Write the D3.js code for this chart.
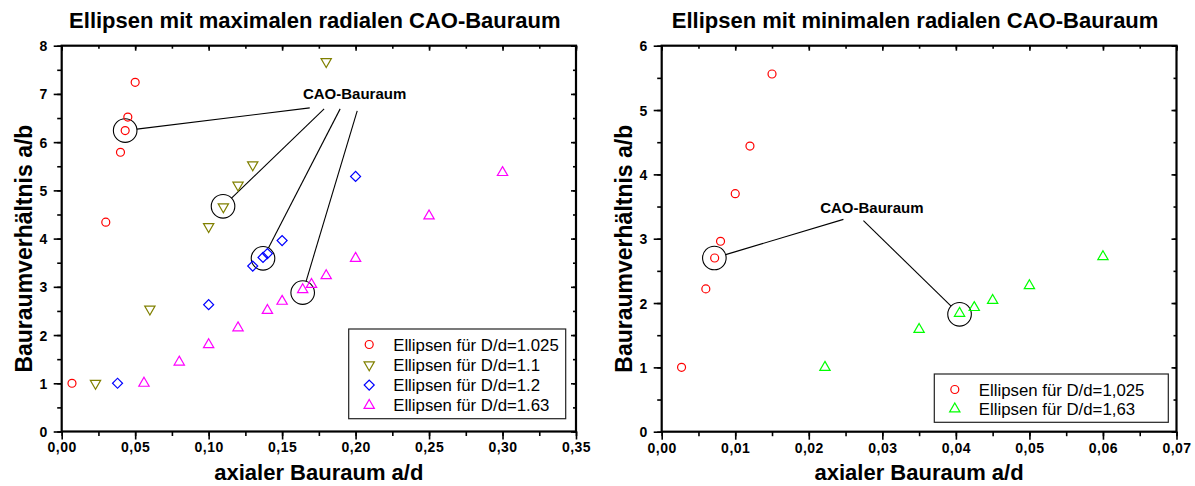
<!DOCTYPE html>
<html>
<head>
<meta charset="utf-8">
<script src="https://cdn.jsdelivr.net/npm/d3@7"></script>
<style>
  html, body { margin: 0; padding: 0; background: #fff; }
  svg { display: block; }
  .title { font-family: "Liberation Sans", Arial, sans-serif; font-weight: bold; font-size: 22px; }
  .axtitle { font-family: "Liberation Sans", Arial, sans-serif; font-weight: bold; font-size: 22px; }
  .ytitle { font-family: "Liberation Sans", Arial, sans-serif; font-weight: bold; font-size: 23px; }
  .legend text { font-family: "Liberation Sans", Arial, sans-serif; font-size: 16.8px; }
  .note { font-family: "Liberation Sans", Arial, sans-serif; font-weight: bold; font-size: 15px; }
</style>
</head>
<body>
<svg id="chart" width="1195" height="486"></svg>
<script>
// ---- Left panel: ellipses with maximal radial CAO design space ----
const leftTitle = "Ellipsen mit maximalen radialen CAO-Bauraum";
const leftXTicks = [0, 0.05, 0.10, 0.15, 0.20, 0.25, 0.30, 0.35];
const leftYTicks = [0, 1, 2, 3, 4, 5, 6, 7, 8];

const maxD1025x = [0.007, 0.030, 0.040, 0.0432, 0.045, 0.050];
const maxD1025y = [1.00, 4.34, 5.79, 6.24, 6.52, 7.24];
const maxD11x = [0.023, 0.060, 0.100, 0.110, 0.120, 0.130, 0.180];
const maxD11y = [1.00, 2.54, 4.25, 4.66, 5.11, 5.53, 7.67];
const maxD12x = [0.038, 0.100, 0.130, 0.137, 0.140, 0.150, 0.200];
const maxD12y = [1.00, 2.63, 3.43, 3.61, 3.69, 3.96, 5.29];
const maxD163x = [0.056, 0.080, 0.100, 0.120, 0.140, 0.150, 0.164, 0.170, 0.180, 0.200, 0.250, 0.300];
const maxD163y = [1.00, 1.44, 1.80, 2.15, 2.51, 2.70, 2.94, 3.05, 3.23, 3.59, 4.47, 5.37];

// highlighted CAO design points and the label they are tied to
const maxCaoX = [0.0432, 0.1098, 0.137, 0.164];
const maxCaoY = [6.24, 4.67, 3.59, 2.88];
const maxLabel = { text: "CAO-Bauraum", x: 0.1993, y: 6.89 };
const maxLeaderX = [0.1688, 0.1786, 0.1895, 0.2011];
const maxLeaderY = [6.71, 6.69, 6.69, 6.65];

// ---- Right panel: ellipses with minimal radial CAO design space ----
const rightTitle = "Ellipsen mit minimalen radialen CAO-Bauraum";
const rightXTicks = [0, 0.01, 0.02, 0.03, 0.04, 0.05, 0.06, 0.07];
const rightYTicks = [0, 1, 2, 3, 4, 5, 6];

const minD1025x = [0.0027, 0.0060, 0.0072, 0.0080, 0.0100, 0.0120, 0.0150];
const minD1025y = [1.00, 2.22, 2.70, 2.96, 3.70, 4.44, 5.56];
const minD163x = [0.0222, 0.0350, 0.0405, 0.0425, 0.0450, 0.0500, 0.0600];
const minD163y = [1.00, 1.59, 1.84, 1.93, 2.04, 2.27, 2.72];

const minCaoX = [0.00716, 0.0405];
const minCaoY = [2.70, 1.825];
const minLabel = { text: "CAO-Bauraum", x: 0.02857, y: 3.40 };
const minLeaderX = [0.02471, 0.02743];
const minLeaderY = [3.30, 3.28];

const xTitle = "axialer Bauraum a/d";
const yTitle = "Bauraumverhältnis a/b";

// ---- marker shapes ----
const markers = {
  circle:  { path: d3.symbol(d3.symbolCircle, 50)(), rot: 0 },
  down:    { path: d3.symbol(d3.symbolTriangle, 46)(), rot: 180 },
  up:      { path: d3.symbol(d3.symbolTriangle, 46)(), rot: 0 },
  diamond: { path: d3.symbol(d3.symbolSquare, 50)(), rot: 45 }
};

const zip = (xs, ys) => xs.map((x, i) => ({ x, y: ys[i] }));
const fmt = v => d3.format(".2f")(v).replace(".", ",");

const svg = d3.select("#chart");

function styleAxis(a) {
  a.attr("font-family", "'Liberation Sans', Arial, sans-serif")
   .attr("font-size", 14).attr("font-weight", "bold");
  a.selectAll(".domain").remove();
  a.selectAll("line").attr("stroke", "#000").attr("stroke-width", 1.6);
  a.selectAll("text").attr("fill", "#000").attr("letter-spacing", 0.5);
}

function drawPanel(cfg) {
  const { x0, x1, y0, y1 } = cfg.box;
  const xs = d3.scaleLinear().domain(cfg.xDomain).range([x0, x1]);
  const ys = d3.scaleLinear().domain(cfg.yDomain).range([y1, y0]);
  const g = svg.append("g");

  // title
  g.append("text").attr("class", "title")
    .attr("x", (x0 + x1) / 2 - 4).attr("y", 28)
    .attr("text-anchor", "middle").text(cfg.title);

  // minor tick values
  const xMinor = d3.range(cfg.xDomain[0], cfg.xDomain[1] + 1e-9, cfg.xMinorStep);
  const yMinor = d3.range(cfg.yDomain[0], cfg.yDomain[1] + 1e-9, cfg.yMinorStep);

  // bottom axis: outward ticks, labelled
  const bottom = g.append("g").attr("transform", `translate(0,${y1})`)
    .call(d3.axisBottom(xs).tickValues(cfg.xTicks).tickFormat(fmt).tickSize(8).tickPadding(3));
  bottom.append("g").call(d3.axisBottom(xs).tickValues(xMinor).tickFormat("").tickSize(4.5));
  // left axis
  const left = g.append("g").attr("transform", `translate(${x0},0)`)
    .call(d3.axisLeft(ys).tickValues(cfg.yTicks).tickFormat(d3.format("d")).tickSize(8).tickPadding(6));
  left.append("g").call(d3.axisLeft(ys).tickValues(yMinor).tickFormat("").tickSize(4.5));
  // top axis: inward ticks
  const top = g.append("g").attr("transform", `translate(0,${y0})`)
    .call(d3.axisBottom(xs).tickValues(cfg.xTicks).tickFormat("").tickSize(5));
  top.append("g").call(d3.axisBottom(xs).tickValues(xMinor).tickFormat("").tickSize(3));
  // right axis: inward ticks
  const right = g.append("g").attr("transform", `translate(${x1},0)`)
    .call(d3.axisLeft(ys).tickValues(cfg.yTicks).tickFormat("").tickSize(5));
  right.append("g").call(d3.axisLeft(ys).tickValues(yMinor).tickFormat("").tickSize(3));

  [bottom, left, top, right].forEach(styleAxis);
  left.selectAll(".tick text").attr("dy", "0.36em");

  // frame
  g.append("rect").attr("x", x0).attr("y", y0)
    .attr("width", x1 - x0).attr("height", y1 - y0)
    .attr("fill", "none").attr("stroke", "#000").attr("stroke-width", 2.2);

  // axis titles
  g.append("text").attr("class", "axtitle")
    .attr("x", (x0 + x1) / 2).attr("y", 480)
    .attr("text-anchor", "middle").text(xTitle);
  g.append("text").attr("class", "ytitle")
    .attr("transform", `translate(${x0 - 29.5},${(y0 + y1) / 2 + 10}) rotate(-90)`)
    .attr("text-anchor", "middle").text(yTitle);

  // highlighted CAO points with leader lines to the label
  const R = 11.8;
  const lbl = cfg.label;
  const lx = xs(lbl.x), ly = ys(lbl.y);
  const cao = zip(cfg.caoX, cfg.caoY);
  const leads = zip(cfg.leaderX, cfg.leaderY);
  cao.forEach((p, i) => {
    const cx = xs(p.x), cy = ys(p.y);
    const sx = xs(leads[i].x), sy = ys(leads[i].y);
    const dx = sx - cx, dy = sy - cy, len = Math.hypot(dx, dy);
    g.append("line")
      .attr("x1", cx + R * dx / len).attr("y1", cy + R * dy / len)
      .attr("x2", sx).attr("y2", sy)
      .attr("stroke", "#000").attr("stroke-width", 1.1);
  });
  g.selectAll(".cao").data(cao).join("circle")
    .attr("cx", d => xs(d.x)).attr("cy", d => ys(d.y)).attr("r", R)
    .attr("fill", "none").attr("stroke", "#000").attr("stroke-width", 1.1);
  g.append("text").attr("class", "note")
    .attr("x", lx).attr("y", ly).attr("text-anchor", "middle").text(lbl.text);

  // data series
  cfg.series.forEach(s => {
    const m = markers[s.shape];
    g.append("g").selectAll("path").data(zip(s.x, s.y)).join("path")
      .attr("d", m.path)
      .attr("transform", d => `translate(${xs(d.x)},${ys(d.y)}) rotate(${m.rot})`)
      .attr("fill", "none").attr("stroke", s.color).attr("stroke-width", 1.2);
  });

  // legend
  const L = cfg.legend;
  const lg = g.append("g").attr("class", "legend");
  lg.append("rect").attr("x", L.x).attr("y", L.y)
    .attr("width", L.w).attr("height", L.h)
    .attr("fill", "#fff").attr("stroke", "#222").attr("stroke-width", 1.2);
  cfg.series.forEach((s, i) => {
    const m = markers[s.shape];
    const ry = L.y + 15.5 + i * L.step;
    lg.append("path").attr("d", m.path)
      .attr("transform", `translate(${L.x + 20.5},${ry}) rotate(${m.rot})`)
      .attr("fill", "none").attr("stroke", s.color).attr("stroke-width", 1.2);
    lg.append("text").attr("x", L.x + 44.5).attr("y", ry + 6)
      .attr("fill", "#000").text(s.name);
  });
}

drawPanel({
  box: { x0: 61.7, x1: 576, y0: 45.7, y1: 431.5 },
  title: leftTitle,
  xDomain: [0, 0.35], yDomain: [0, 8],
  xTicks: leftXTicks, yTicks: leftYTicks,
  xMinorStep: 0.025, yMinorStep: 0.5,
  caoX: maxCaoX, caoY: maxCaoY,
  label: maxLabel, leaderX: maxLeaderX, leaderY: maxLeaderY,
  series: [
    { name: "Ellipsen für D/d=1.025", shape: "circle",  color: "#ff0000", x: maxD1025x, y: maxD1025y },
    { name: "Ellipsen für D/d=1.1",   shape: "down",    color: "#808000", x: maxD11x,   y: maxD11y },
    { name: "Ellipsen für D/d=1.2",   shape: "diamond", color: "#0000ff", x: maxD12x,   y: maxD12y },
    { name: "Ellipsen für D/d=1.63",  shape: "up",      color: "#ff00ff", x: maxD163x,  y: maxD163y }
  ],
  legend: { x: 348.7, y: 329, w: 217, h: 89.7, step: 20.3 }
});

drawPanel({
  box: { x0: 661.7, x1: 1176.5, y0: 45.7, y1: 431.7 },
  title: rightTitle,
  xDomain: [0, 0.07], yDomain: [0, 6],
  xTicks: rightXTicks, yTicks: rightYTicks,
  xMinorStep: 0.005, yMinorStep: 0.5,
  caoX: minCaoX, caoY: minCaoY,
  label: minLabel, leaderX: minLeaderX, leaderY: minLeaderY,
  series: [
    { name: "Ellipsen für D/d=1,025", shape: "circle", color: "#ff0000", x: minD1025x, y: minD1025y },
    { name: "Ellipsen für D/d=1,63",  shape: "up",     color: "#00ff00", x: minD163x,  y: minD163y }
  ],
  legend: { x: 934.3, y: 374, w: 234, h: 48.3, step: 19.4 }
});
</script>
</body>
</html>
